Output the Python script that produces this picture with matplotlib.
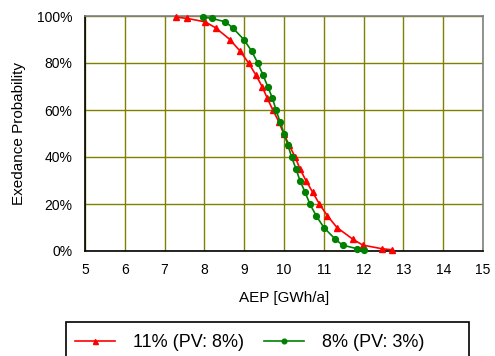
import matplotlib

matplotlib.use("Agg")

import matplotlib.pyplot as plt  # noqa: E402
from matplotlib.patches import Rectangle  # noqa: E402
from matplotlib.ticker import FuncFormatter  # noqa: E402

plt.rcParams["font.family"] = ["Liberation Sans", "DejaVu Sans"]

# exceedance probability levels (%)
prob = [99.5, 99, 97.5, 95, 90, 85, 80, 75, 70, 65, 60, 55, 50,
        45, 40, 35, 30, 25, 20, 15, 10, 5, 2.5, 1, 0.5]

# AEP [GWh/a] for each probability level
aep_11 = [7.28, 7.56, 8.02, 8.28, 8.64, 8.90, 9.11, 9.29, 9.45, 9.58, 9.72, 9.87, 9.99,
          10.13, 10.28, 10.40, 10.55, 10.72, 10.89, 11.09, 11.33, 11.73, 11.98, 12.45, 12.72]
aep_8 = [7.97, 8.18, 8.53, 8.71, 8.99, 9.19, 9.34, 9.47, 9.59, 9.71, 9.80, 9.90, 10.00,
         10.10, 10.19, 10.30, 10.40, 10.53, 10.65, 10.81, 11.00, 11.29, 11.47, 11.83, 12.02]

labels = ["11% (PV: 8%)", "8% (PV: 3%)"]
x_ticks = list(range(5, 16))
y_ticks = [0, 20, 40, 60, 80, 100]

W, H = 495, 356
fig = plt.figure(figsize=(W / 100, H / 100), dpi=100)
ax = fig.add_axes([85 / W, 1 - 251 / H, (483 - 85) / W, (251 - 16) / H])

ax.plot(aep_11, prob, color="#ff0000", marker="^", markersize=4.5, linewidth=1.2,
        label=labels[0], clip_on=False, zorder=3)
ax.plot(aep_8, prob, color="#008000", marker="o", markersize=4.2, linewidth=1.2,
        label=labels[1], clip_on=False, zorder=4)

ax.set_xlim(5, 15)
ax.set_ylim(0, 100)
ax.set_xticks(x_ticks)
ax.set_yticks(y_ticks)
ax.yaxis.set_major_formatter(FuncFormatter(lambda v, _: f"{v:.0f}%"))
ax.tick_params(length=0, labelsize=10, pad=9)
ax.grid(True, color="#808000", linewidth=1)
ax.set_axisbelow(True)

for side in ("left", "bottom"):
    ax.spines[side].set_color("black")
    ax.spines[side].set_linewidth(1.2)
for side in ("top", "right"):
    ax.spines[side].set_color("#808080")
    ax.spines[side].set_linewidth(1.2)

ax.set_xlabel("AEP [GWh/a]", fontsize=11, labelpad=10)
ax.set_ylabel("Exedance Probability", fontsize=11, labelpad=8)

# legend box runs off the bottom edge of the picture
fig.patches.append(Rectangle((66 / W, -0.05), (469 - 66) / W, (356 - 322) / H + 0.05,
                             transform=fig.transFigure, fill=False,
                             edgecolor="black", linewidth=1.2))
fig.legend(loc="upper left", bbox_to_anchor=(70 / W, 1 - 329 / H),
           ncol=2, fontsize=13, frameon=False,
           handlelength=2.2, handletextpad=1.0, columnspacing=1.1,
           borderpad=0.3, borderaxespad=0, markerscale=0.8)

fig.savefig("out.png", dpi=100)
